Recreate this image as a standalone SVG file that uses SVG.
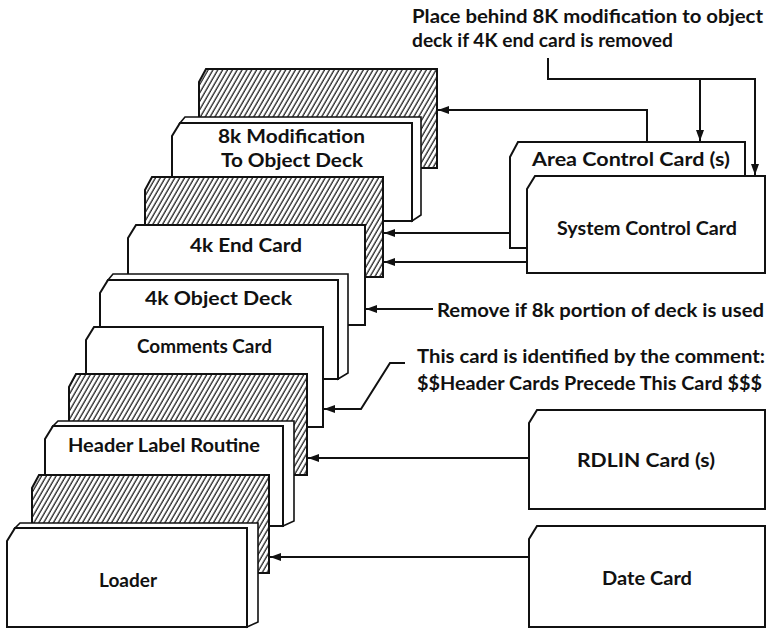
<svg xmlns="http://www.w3.org/2000/svg" width="768" height="631" viewBox="0 0 768 631">
<defs>
<pattern id="hatch" width="4.2" height="10" patternUnits="userSpaceOnUse" patternTransform="rotate(30)">
<rect width="4.2" height="10" fill="#fff"/>
<line x1="1" y1="0" x2="1" y2="10" stroke="#222" stroke-width="1.3"/>
</pattern>
<marker id="ah" markerWidth="11" markerHeight="8" refX="11" refY="4" orient="auto" markerUnits="userSpaceOnUse">
<path d="M0,0 L11,4 L0,8 z" fill="#111"/>
</marker>
<style>
.card{fill:#fff;stroke:#111;stroke-width:2;stroke-linejoin:miter}
.hatched{fill:url(#hatch);stroke:#111;stroke-width:2}
.ext{fill:#fff;stroke:#111;stroke-width:1.6}
.t{font-family:Lato,"Open Sans","DejaVu Sans",sans-serif;font-weight:700;font-size:18.5px;fill:#111}
.conn{fill:none;stroke:#111;stroke-width:2}
.arr{marker-end:url(#ah)}
</style>
</defs>
<rect width="768" height="631" fill="#fff"/>

<g id="hatched1"><path class="hatched" d="M199,82 L206,69 L437,69 L437,168 L199,168 Z"/></g>

<g id="card-8k">
<path class="ext" d="M180,123 L185,117 L421,117 L421,215 L412,221 L412,123 Z"/>
<path class="card" d="M172,136 L180,123 L412,123 L412,221 L172,221 Z"/>
<text class="t" x="218" y="143" textLength="147" lengthAdjust="spacingAndGlyphs">8k Modification</text>
<text class="t" x="221" y="167" textLength="142" lengthAdjust="spacingAndGlyphs">To Object Deck</text>
</g>

<g id="hatched2"><path class="hatched" d="M145,190 L152,177 L383,177 L383,277 L145,277 Z"/></g>

<g id="card-4k-end">
<path class="card" d="M128,238 L136,225 L365,225 L365,325 L128,325 Z"/>
<text class="t" x="190" y="252" textLength="112" lengthAdjust="spacingAndGlyphs">4k End Card</text>
</g>

<g id="card-4k-object">
<path class="ext" d="M108,280 L113,274 L348,274 L348,373 L338,379 L338,280 Z"/>
<path class="card" d="M100,293 L108,280 L338,280 L338,379 L100,379 Z"/>
<text class="t" x="145" y="305" textLength="147" lengthAdjust="spacingAndGlyphs">4k Object Deck</text>
</g>

<g id="card-comments">
<path class="card" d="M86,340 L94,327 L323,327 L323,427 L86,427 Z"/>
<text class="t" x="137" y="353" textLength="135" lengthAdjust="spacingAndGlyphs">Comments Card</text>
</g>

<g id="hatched3"><path class="hatched" d="M69,387 L76,374 L307,374 L307,475 L69,475 Z"/></g>

<g id="card-header">
<path class="ext" d="M53,426 L58,421 L294,421 L294,521 L283,526 L283,426 Z"/>
<path class="card" d="M45,439 L53,426 L283,426 L283,526 L45,526 Z"/>
<text class="t" x="68" y="452" textLength="192" lengthAdjust="spacingAndGlyphs">Header Label Routine</text>
</g>

<g id="hatched4"><path class="hatched" d="M32,488 L39,475 L269,475 L269,573 L32,573 Z"/></g>

<g id="card-loader">
<path class="ext" d="M15,528 L20,523 L258,523 L258,622 L247,627 L247,528 Z"/>
<path class="card" d="M7,541 L15,528 L247,528 L247,627 L7,627 Z"/>
<text class="t" x="99" y="587" textLength="58" lengthAdjust="spacingAndGlyphs">Loader</text>
</g>

<g id="card-area-control">
<path class="card" d="M510,157 L518,142 L745,142 L745,248 L510,248 Z"/>
<text class="t" x="532" y="166" textLength="198" lengthAdjust="spacingAndGlyphs">Area Control Card (s)</text>
</g>

<g id="card-system-control">
<path class="card" d="M527,189 L535,176 L765,176 L765,273 L527,273 Z"/>
<text class="t" x="557" y="235" textLength="180" lengthAdjust="spacingAndGlyphs">System Control Card</text>
</g>

<g id="card-rdlin">
<path class="card" d="M529,423 L537,410 L765,410 L765,509 L529,509 Z"/>
<text class="t" x="577" y="467" textLength="138" lengthAdjust="spacingAndGlyphs">RDLIN Card (s)</text>
</g>

<g id="card-date">
<path class="card" d="M529,539 L537,526 L765,526 L765,627 L529,627 Z"/>
<text class="t" x="602" y="585" textLength="90" lengthAdjust="spacingAndGlyphs">Date Card</text>
</g>

<g id="notes">
<text class="t" x="412" y="23" textLength="351" lengthAdjust="spacingAndGlyphs">Place behind 8K modification to object</text>
<text class="t" x="412" y="47" textLength="261" lengthAdjust="spacingAndGlyphs">deck if 4K end card is removed</text>
<text class="t" x="437" y="317" textLength="327" lengthAdjust="spacingAndGlyphs">Remove if 8k portion of deck is used</text>
<text class="t" x="417" y="363" textLength="348" lengthAdjust="spacingAndGlyphs">This card is identified by the comment:</text>
<text class="t" x="417" y="390" textLength="345" lengthAdjust="spacingAndGlyphs">$$Header Cards Precede This Card $$$</text>
</g>

<g id="connectors">
<path class="conn" d="M548,58 L548,79 L755,79 L755,175"/>
<path class="conn arr" d="M755,150 L755,175"/>
<path class="conn arr" d="M700,79 L700,141"/>
<path class="conn arr" d="M647,142 L647,110 L438,110"/>
<path class="conn arr" d="M510,233 L384,233"/>
<path class="conn arr" d="M527,262 L384,262"/>
<path class="conn arr" d="M433,309 L366,309"/>
<path class="conn arr" d="M405,363 L390,363 L361,409 L324,409"/>
<path class="conn arr" d="M529,458 L308,458"/>
<path class="conn arr" d="M529,557 L270,557"/>
</g>
</svg>
